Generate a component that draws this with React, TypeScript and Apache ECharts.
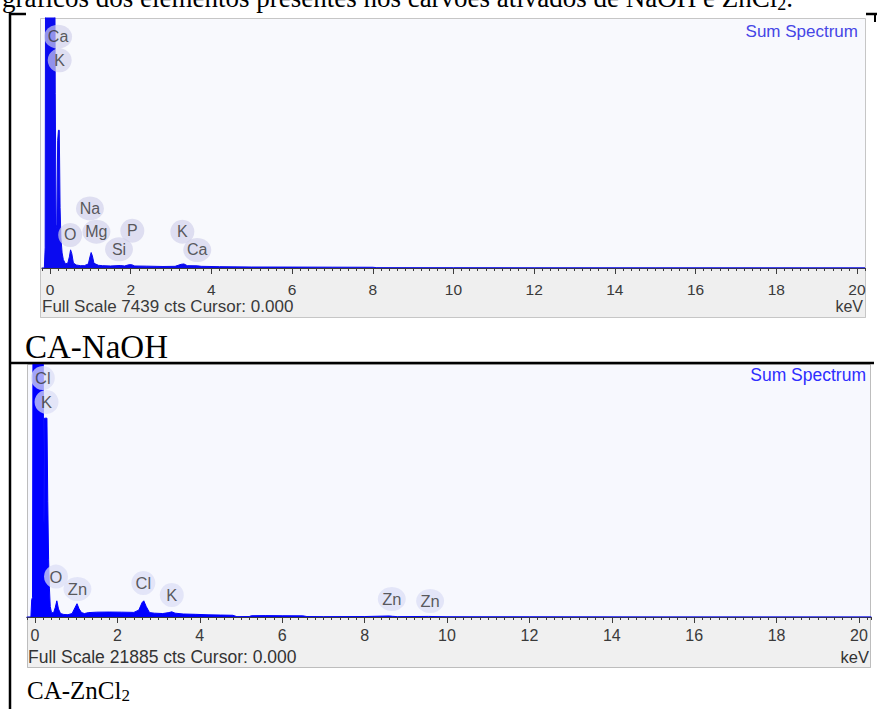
import React, { useEffect, useRef } from "react";
import * as echarts from "echarts";

// ---------- data ----------
const MAJOR_TICKS = [0, 2, 4, 6, 8, 10, 12, 14, 16, 18, 20];

const NAOH_FULL_SCALE = 7439;
const ZNCL_FULL_SCALE = 21885;

const NAOH_KEV = [-0.2, -0.14, -0.12, -0.11, 0.12, 0.13, 0.15, 0.17, 0.19, 0.21, 0.23, 0.25, 0.27, 0.3, 0.33, 0.38, 0.44, 0.48, 0.51, 0.54, 0.58, 0.65, 0.75, 0.85, 0.95, 0.99, 1.02, 1.05, 1.09, 1.2, 1.3, 1.5, 1.74, 1.85, 1.95, 2.02, 2.1, 2.4, 2.8, 3.1, 3.25, 3.32, 3.4, 3.65, 3.75, 4.2, 5, 6, 7, 8, 8.1, 10, 12, 15, 20.2];
const NAOH_CTS = [0, 0, 600, 9000, 9000, 5200, 1300, 1200, 3800, 4100, 4100, 1800, 900, 450, 250, 130, 140, 330, 540, 430, 150, 90, 70, 70, 120, 330, 460, 360, 140, 80, 70, 60, 75, 60, 95, 100, 60, 55, 45, 50, 110, 120, 70, 65, 50, 40, 30, 28, 25, 22, 10, 8, 6, 5, 4];

const ZNCL_KEV = [-0.2, -0.1, -0.08, -0.06, -0.05, 0.2, 0.21, 0.22, 0.23, 0.29, 0.31, 0.33, 0.35, 0.37, 0.4, 0.45, 0.49, 0.53, 0.57, 0.62, 0.7, 0.8, 0.9, 0.97, 1.02, 1.07, 1.13, 1.2, 1.3, 1.5, 1.8, 2.1, 2.4, 2.52, 2.6, 2.64, 2.7, 2.78, 2.9, 3.1, 3.25, 3.32, 3.4, 3.6, 3.9, 4.2, 4.5, 4.8, 4.9, 5.2, 5.25, 5.6, 6.0, 6.5, 6.6, 7.0, 8.0, 8.6, 8.68, 8.8, 9.55, 10, 12, 15, 20.3];
const ZNCL_CTS = [0, 0, 1500, 1700, 23000, 23000, 9000, 8000, 17200, 17200, 10000, 5000, 2500, 900, 400, 350, 800, 1400, 700, 300, 220, 200, 300, 800, 1150, 700, 380, 300, 380, 420, 430, 420, 400, 600, 1250, 1400, 900, 380, 330, 300, 380, 450, 330, 260, 230, 190, 170, 150, 30, 40, 110, 120, 110, 100, 40, 30, 40, 90, 60, 30, 50, 20, 15, 10, 8];

const NAOH_LABELS = ["Ca", "K", "Na", "O", "Mg", "P", "Si", "K", "Ca"];
const NAOH_LABEL_KEV = [0.2, 0.24, 0.99, 0.5, 1.15, 2.04, 1.71, 3.28, 3.65];
const NAOH_LABEL_CTS = [6884, 6181, 1771, 982, 1080, 1110, 557, 1080, 536];

const ZNCL_LABELS = ["Cl", "K", "O", "Zn", "Cl", "K", "Zn", "Zn"];
const ZNCL_LABEL_KEV = [0.19, 0.28, 0.51, 1.03, 2.63, 3.32, 8.66, 9.59];
const ZNCL_LABEL_CTS = [20674, 18600, 3500, 2422, 2941, 1903, 1557, 1384];

const TOP_CAPTION = "gráficos dos elementos presentes nos carvões ativados de NaOH e ZnCl";
const SAMPLE_1 = "CA-NaOH";
const SAMPLE_2 = "CA-ZnCl";

// ---------- component ----------
export default function App() {
  const ref = useRef<HTMLDivElement>(null);

  useEffect(() => {
    if (!ref.current) return;
    const chart = echarts.init(ref.current, null, { renderer: "svg" });
    const SANS = "'Liberation Sans', Arial, sans-serif";
    const SERIF = "'Liberation Serif', 'Times New Roman', serif";

    const labelData = (names: string[], kev: number[], cts: number[]) =>
      names.map((n, i) => ({
        name: n,
        value: [kev[i], cts[i]],
        symbolSize: n.length > 1 && n !== "Cl" ? [28, 24] : [24, 24],
      }));

    const majorAxis = (grid: number, min: number, max: number, fs: number, margin: number) => ({
      type: "value",
      gridIndex: grid,
      min,
      max,
      position: "bottom",
      axisLine: { show: true, lineStyle: { color: "#3c3c3c", width: 1 } },
      axisTick: { show: true, length: 6, inside: false, customValues: MAJOR_TICKS, lineStyle: { color: "#3c3c3c" } },
      axisLabel: { show: true, customValues: MAJOR_TICKS, fontSize: fs, color: "#3a3a3a", margin, fontFamily: SANS },
      splitLine: { show: false },
    });
    const minorAxis = (grid: number, min: number, max: number) => ({
      type: "value",
      gridIndex: grid,
      min,
      max,
      interval: 0.2,
      position: "bottom",
      axisLine: { show: false },
      axisTick: { show: true, length: 3, inside: false, lineStyle: { color: "#3c3c3c" } },
      axisLabel: { show: false },
      splitLine: { show: false },
    });

    chart.setOption({
      animation: false,
      backgroundColor: "#ffffff",
      grid: [
        { left: 41.93, top: 18, width: 823.1, height: 250 },
        { left: 26.76, top: 364, width: 844.6, height: 253 },
      ],
      xAxis: [
        majorAxis(0, -0.2, 20.2, 15.5, 13),
        minorAxis(0, -0.2, 20.2),
        majorAxis(1, -0.2, 20.3, 16, 10),
        minorAxis(1, -0.2, 20.3),
      ],
      yAxis: [
        { type: "value", gridIndex: 0, min: 0, max: NAOH_FULL_SCALE, show: false },
        { type: "value", gridIndex: 1, min: 0, max: ZNCL_FULL_SCALE, show: false },
      ],
      series: [
        {
          type: "line",
          xAxisIndex: 0,
          yAxisIndex: 0,
          data: NAOH_KEV.map((k, i) => [k, NAOH_CTS[i]]),
          symbol: "none",
          lineStyle: { color: "#0a0af0", width: 1 },
          areaStyle: { color: "#0a0af0", opacity: 1 },
          clip: true,
          z: 3,
        },
        {
          type: "scatter",
          xAxisIndex: 0,
          yAxisIndex: 0,
          data: labelData(NAOH_LABELS, NAOH_LABEL_KEV, NAOH_LABEL_CTS),
          itemStyle: { color: "rgba(210,210,234,0.85)" },
          label: { show: true, position: "inside", formatter: "{b}", color: "#333333", fontSize: 16, fontFamily: SANS },
          clip: false,
          z: 4,
        },
        {
          type: "line",
          xAxisIndex: 2,
          yAxisIndex: 1,
          data: ZNCL_KEV.map((k, i) => [k, ZNCL_CTS[i]]),
          symbol: "none",
          lineStyle: { color: "#0000ff", width: 1 },
          areaStyle: { color: "#0000ff", opacity: 1 },
          clip: true,
          z: 3,
        },
        {
          type: "scatter",
          xAxisIndex: 2,
          yAxisIndex: 1,
          data: labelData(ZNCL_LABELS, ZNCL_LABEL_KEV, ZNCL_LABEL_CTS),
          itemStyle: { color: "rgba(220,222,245,0.92)" },
          label: { show: true, position: "inside", formatter: "{b}", color: "#333333", fontSize: 16.5, fontFamily: SANS },
          clip: false,
          z: 4,
        },
      ],
      graphic: [
        // panel backgrounds
        { type: "rect", z: -5, shape: { x: 40.5, y: 18.5, width: 825, height: 299 }, style: { fill: "#f8f9fd", stroke: "#c6c6c6", lineWidth: 1 } },
        { type: "rect", z: -4, shape: { x: 40.5, y: 268, width: 825, height: 49.5 }, style: { fill: "#efefef", stroke: "#c6c6c6", lineWidth: 1 } },
        { type: "rect", z: -5, shape: { x: 27.5, y: 364.5, width: 843, height: 303 }, style: { fill: "#f7f8fe", stroke: "#bdbdbd", lineWidth: 1 } },
        { type: "rect", z: -4, shape: { x: 27.5, y: 617, width: 843, height: 50.5 }, style: { fill: "#f0f0f0", stroke: "#bdbdbd", lineWidth: 1 } },
        // table lines
        { type: "line", z: 20, shape: { x1: 10, y1: 13, x2: 10, y2: 709 }, style: { stroke: "#000", lineWidth: 2.5 } },
        { type: "line", z: 20, shape: { x1: 9, y1: 14, x2: 26, y2: 14 }, style: { stroke: "#000", lineWidth: 2.5 } },
        { type: "line", z: 20, shape: { x1: 866, y1: 14, x2: 877, y2: 14 }, style: { stroke: "#000", lineWidth: 2.5 } },
        { type: "line", z: 20, shape: { x1: 875, y1: 13, x2: 875, y2: 22 }, style: { stroke: "#000", lineWidth: 2 } },
        { type: "line", z: 20, shape: { x1: 9, y1: 363, x2: 874, y2: 363 }, style: { stroke: "#000", lineWidth: 2.5 } },
        // captions
        { type: "text", z: 20, x: 2, y: -2, style: { text: TOP_CAPTION + "{s|2}.", font: `27px ${SERIF}`, fill: "#000", verticalAlign: "middle", rich: { s: { fontSize: 18, fontFamily: "Liberation Serif", padding: [11, 0, 0, 0] } } } },
        { type: "text", z: 20, x: 25, y: 347, style: { text: SAMPLE_1, font: `33px ${SERIF}`, fill: "#000", verticalAlign: "middle" } },
        { type: "text", z: 20, x: 27, y: 690, style: { text: SAMPLE_2 + "{s|2}", font: `25px ${SERIF}`, fill: "#000", verticalAlign: "middle", rich: { s: { fontSize: 17, fontFamily: "Liberation Serif", padding: [10, 0, 0, 0] } } } },
        // panel texts
        { type: "text", z: 20, x: 858, y: 31, style: { text: "Sum Spectrum", font: `17px ${SANS}`, fill: "#4646e6", align: "right", verticalAlign: "middle" } },
        { type: "text", z: 20, x: 42, y: 306, style: { text: `Full Scale ${NAOH_FULL_SCALE} cts Cursor: 0.000`, font: `17px ${SANS}`, fill: "#3a3a3a", verticalAlign: "middle" } },
        { type: "text", z: 20, x: 863, y: 306, style: { text: "keV", font: `16px ${SANS}`, fill: "#3a3a3a", align: "right", verticalAlign: "middle" } },
        { type: "text", z: 20, x: 866, y: 375, style: { text: "Sum Spectrum", font: `17.5px ${SANS}`, fill: "#2d2dff", align: "right", verticalAlign: "middle" } },
        { type: "text", z: 20, x: 28, y: 657, style: { text: `Full Scale ${ZNCL_FULL_SCALE} cts Cursor: 0.000`, font: `17.5px ${SANS}`, fill: "#333333", verticalAlign: "middle" } },
        { type: "text", z: 20, x: 869, y: 657, style: { text: "keV", font: `16.5px ${SANS}`, fill: "#333333", align: "right", verticalAlign: "middle" } },
      ],
    });

    return () => chart.dispose();
  }, []);

  return (
    <div
      ref={ref}
      style={{ position: "absolute", left: 0, top: 0, width: 877, height: 709, background: "#fff" }}
    />
  );
}
